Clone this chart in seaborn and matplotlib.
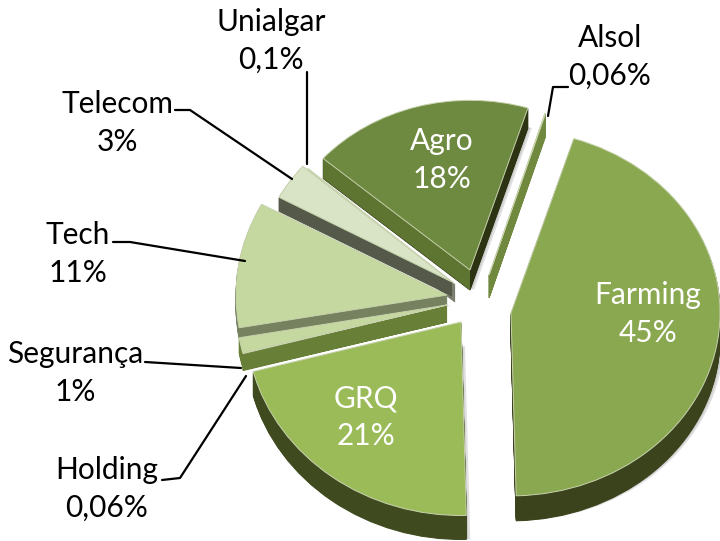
import numpy as np
import matplotlib
matplotlib.use('Agg')
import matplotlib.pyplot as plt
from matplotlib.transforms import Affine2D
import seaborn as sns

sns.set_theme(style='white')
plt.rcParams['font.family'] = ['Lato', 'DejaVu Sans']

# fatias, no sentido horario a partir de Farming
names = ['Farming', 'GRQ', 'Holding', 'Segurança', 'Tech', 'Telecom', 'Unialgar', 'Agro', 'Alsol']
labels = ['45%', '21%', '0,06%', '1%', '11%', '3%', '0,1%', '18%', '0,06%']
shares = [44.8, 21.3, 0.06, 1.3, 10.7, 3.4, 0.1, 18.4, 0.06]

# estilo de cada fatia
top_colors = ['#8AA850', '#9BBB59', '#9BBB59', '#C5D8A0', '#C5D8A0', '#D9E4C6', '#C9CFBC', '#6E8A40', '#7D9A46']
side_colors = ['#3A431C', '#3F4A1F', '#677F37', '#677F37', '#76825F', '#55594A', '#6C7060', '#2C3312', '#70893F']
apex_x = [511, 461, 447, 447, 447, 452, 455, 470, 489]
apex_y = [313, 322, 305, 305, 295, 282, 284, 270, 275]
radius = [209, 215, 211, 211, 211, 197, 195, 195, 188]
squash = [0.875, 0.90, 0.90, 0.90, 0.90, 0.90, 0.90, 0.87, 0.90]
depth = [25, 24, 17, 15, 11, 14, 18, 20, 23]
shadow = [0.3, 0.3, 0.0, 0.0, 0.15, 0.15, 0.15, 0.3, 0.0]
draw_order = [8, 7, 6, 5, 4, 3, 2, 1, 0]
start_angle = 72.5

H = 541
fig = plt.figure(figsize=(7.2, 5.41), dpi=100)
ax = fig.add_axes([0, 0, 1, 1])

total = sum(shares)
starts = start_angle - np.cumsum([0] + shares[:-1]) * 360 / total


def squeeze(cy, k):
    return Affine2D().translate(0, -cy).scale(1, k).translate(0, cy) + ax.transData


def wedge(i, dx, dy, color, alpha=None, edge=None):
    cy = H - apex_y[i] - dy
    w, _ = ax.pie([shares[i], total - shares[i]], colors=[color, 'none'], startangle=starts[i],
                  counterclock=False, center=(apex_x[i] + dx, cy), radius=radius[i])
    w[1].remove()
    w[0].set_transform(squeeze(cy, squash[i]))
    if alpha is not None:
        w[0].set_alpha(alpha)
    if edge is not None:
        w[0].set_edgecolor(edge)
        w[0].set_linewidth(0.7)
    else:
        w[0].set_linewidth(0)
    return w[0]


for i in draw_order:
    # sombra leve
    if shadow[i] > 0:
        for s in [4, 2]:
            wedge(i, s, depth[i], '#9A9A9A', alpha=shadow[i])
    # lateral
    for d in range(depth[i], 0, -1):
        wedge(i, 0, d, side_colors[i], edge=side_colors[i])
    # face direita do Agro, mais clara
    if names[i] == 'Agro':
        a = np.deg2rad(starts[i])
        cx, cy = apex_x[i], H - apex_y[i]
        ex, ey = cx + radius[i] * np.cos(a), cy + radius[i] * squash[i] * np.sin(a)
        d = depth[i]
        ax.fill([cx, ex, ex, cx], [cy, ey, ey - d, cy - d], color='#5E7532', lw=0)
    wedge(i, 0, 0, top_colors[i], edge='#C8D3AE')

# rotulos
inside = {'Agro': (442, 160), 'Farming': (648, 314), 'GRQ': (366, 417)}
outside = {'Unialgar': (271, 41), 'Alsol': (610, 57), 'Telecom': (117, 123),
           'Tech': (78, 254), 'Segurança': (75, 373), 'Holding': (107, 489)}
for n, l in zip(names, labels):
    if n in inside:
        x, y = inside[n]
        ax.text(x, H - y, n + '\n' + l, color='white', fontsize=21.5, ha='center', va='center', linespacing=1.4)
    else:
        x, y = outside[n]
        ax.text(x, H - y, n + '\n' + l, color='black', fontsize=21.5, ha='center', va='center', linespacing=1.4)

# linhas de chamada
leaders = [[(568, 87), (553, 87), (548, 116)],
           [(307, 72), (307, 164)],
           [(175, 110), (190, 110), (292, 179)],
           [(113, 242), (130, 242), (245, 261)],
           [(145, 362), (241, 368)],
           [(162, 480), (180, 478), (246, 376)]]
for pts in leaders:
    ax.plot([p[0] for p in pts], [H - p[1] for p in pts], color='black', lw=1.6)

ax.set_aspect('auto')
ax.set_xlim(0, 720)
ax.set_ylim(0, H)
ax.axis('off')
fig.savefig('out.png', dpi=100)
